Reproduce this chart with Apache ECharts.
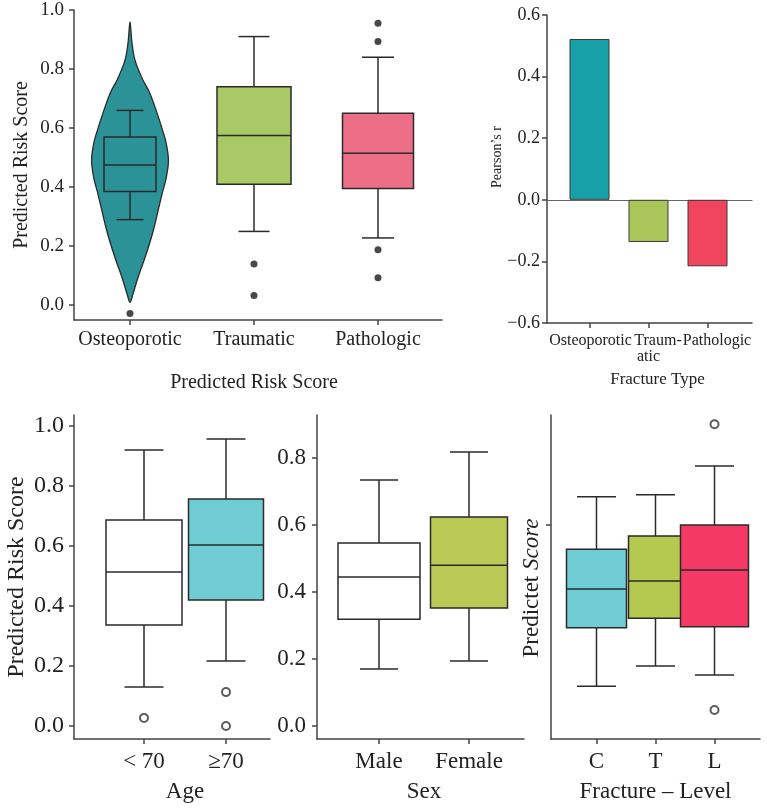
<!DOCTYPE html>
<html>
<head>
<meta charset="utf-8">
<title>Predicted risk score panels</title>
<script src="https://cdn.jsdelivr.net/npm/echarts@6/dist/echarts.min.js"></script>
<style>
  html, body { margin: 0; padding: 0; background: #fff; }
  #chart { width: 767px; height: 809px; }
</style>
</head>
<body>
<div id="chart"></div>
<script>
// ---- data ----
// boxes are [lower whisker, Q1, median, Q3, upper whisker]
const typeCats = ['Osteoporotic', 'Traumatic', 'Pathologic'];
const typeBoxes = [
  [0.29, 0.385, 0.475, 0.57, 0.66],
  [0.25, 0.41, 0.575, 0.74, 0.91],
  [0.228, 0.395, 0.515, 0.65, 0.84]
];
const typeOutliers = [[0, -0.028], [1, 0.14], [1, 0.033], [2, 0.955], [2, 0.893], [2, 0.188], [2, 0.093]];
// osteoporotic violin: score levels and relative density
const violinY = [0.96, 0.89, 0.83, 0.77, 0.72, 0.66, 0.60, 0.55, 0.49, 0.43, 0.38, 0.32, 0.26, 0.21, 0.15, 0.095, 0.04, 0.01];
const violinD = [0, 0.05, 0.13, 0.31, 0.51, 0.68, 0.83, 0.94, 1.0, 0.94, 0.84, 0.73, 0.62, 0.51, 0.36, 0.21, 0.08, 0];

const corrCats = ['Osteoporotic', 'Traum-\natic', 'Pathologic'];
const corrValues = [0.522, -0.137, -0.216];
// the printed axis jumps from -0.2 straight to "-0.6" one step below
const corrTicks = [-0.4, -0.2, 0, 0.2, 0.4, 0.6];
const corrTickLabels = ['\u22120.6', '\u22120.2', '0.0', '0.2', '0.4', '0.6'];

const ageCats = ['< 70', '\u226570'];
const ageBoxes = [
  [0.13, 0.337, 0.513, 0.687, 0.92],
  [0.217, 0.42, 0.603, 0.757, 0.957]
];
const ageOutliers = [[0, 0.027], [1, 0.113], [1, 0.0]];

const sexCats = ['Male', 'Female'];
const sexBoxes = [
  [0.17, 0.319, 0.445, 0.546, 0.734],
  [0.194, 0.352, 0.48, 0.624, 0.818]
];

const levelCats = ['C', 'T', 'L'];
const levelBoxes = [
  [0.119, 0.293, 0.409, 0.528, 0.684],
  [0.179, 0.322, 0.433, 0.567, 0.69],
  [0.152, 0.296, 0.466, 0.6, 0.776]
];
const levelOutliers = [[2, 0.901], [2, 0.048]];

const scoreTicks = [0, 0.2, 0.4, 0.6, 0.8, 1.0];
const sexTicks = [0, 0.2, 0.4, 0.6, 0.8];
const levelTicks = [0.6];

// ---- styles ----
const FONT = 'Liberation Serif';
const INK = '#222';
const LINE = '#2a2a2a';
const typeColors = ['#2b9398', '#a9c866', '#ec6f87'];
const corrColors = ['#17a0a8', '#aac65b', '#f1455f'];
const ageColors = ['#ffffff', '#70ccd3'];
const sexColors = ['#ffffff', '#b9ca54'];
const levelColors = ['#70ccd3', '#b5c850', '#f33964'];

const axisLineStyle = { color: '#444', width: 1.5 };
const fmt = v => (v < -1e-9 ? '\u2212' : '') + Math.abs(v).toFixed(1);

const grids = [], xAxes = [], yAxes = [], series = [];

function panel(p) {
  const g = grids.length;
  grids.push({ left: p.left, top: p.top, width: p.width, height: p.height, outerBoundsMode: 'none' });
  grids.push({ left: p.dataLeft, top: p.top, width: p.dataWidth, height: p.height, outerBoundsMode: 'none' });
  xAxes.push({
    gridIndex: g, type: 'value', min: 0, max: 1, position: 'bottom',
    axisLine: { show: true, onZero: false, lineStyle: axisLineStyle },
    axisTick: { show: false }, axisLabel: { show: false }, splitLine: { show: false }
  });
  yAxes.push({
    gridIndex: g, type: 'value', min: p.range[0], max: p.range[1],
    axisLine: { show: true, lineStyle: axisLineStyle },
    axisTick: { show: true, length: 5, customValues: p.ticks, lineStyle: axisLineStyle },
    axisLabel: {
      show: p.labels !== false, customValues: p.ticks, formatter: p.tickFmt || fmt,
      fontFamily: FONT, fontSize: p.tickSize, color: INK, margin: p.tickMargin
    },
    splitLine: { show: false },
    name: p.yName || '', nameLocation: 'middle', nameGap: p.yNameGap || 0, nameMoveOverlap: false,
    nameTextStyle: Object.assign({ fontFamily: FONT, fontSize: p.yNameSize, color: INK }, p.yNameStyle || {})
  });
  const xi = xAxes.length;
  xAxes.push({
    gridIndex: g + 1, type: 'category', data: p.cats,
    axisLine: { show: false, onZero: false },
    axisTick: { show: true, alignWithLabel: true, length: 5, lineStyle: axisLineStyle },
    axisLabel: Object.assign({
      interval: 0, fontFamily: FONT, fontSize: p.catSize, color: INK,
      margin: p.catMargin, lineHeight: p.catLine || p.catSize
    }, p.catExtra || {}),
    name: p.xName, nameLocation: 'middle', nameGap: p.xNameGap, nameMoveOverlap: false,
    nameTextStyle: Object.assign({ fontFamily: FONT, fontSize: p.xNameSize, color: INK }, p.xNameStyle || {})
  });
  const yi = yAxes.length;
  yAxes.push({ gridIndex: g + 1, type: 'value', min: p.range[0], max: p.range[1], show: false });
  return { g: g, x: xi, y: yi, fx: xi - 1, fy: yi - 1 };
}

function boxRenderer(colors, widths, caps) {
  return function (params, api) {
    const i = api.value(0);
    const lo = api.coord([i, api.value(1)]);
    const q1 = api.coord([i, api.value(2)]);
    const md = api.coord([i, api.value(3)]);
    const q3 = api.coord([i, api.value(4)]);
    const hi = api.coord([i, api.value(5)]);
    const x = lo[0], hw = widths[i] / 2, hc = caps[i] / 2;
    const st = { stroke: LINE, lineWidth: 1.5 };
    return {
      type: 'group',
      children: [
        { type: 'line', shape: { x1: x, y1: hi[1], x2: x, y2: q3[1] }, style: st },
        { type: 'line', shape: { x1: x, y1: q1[1], x2: x, y2: lo[1] }, style: st },
        { type: 'line', shape: { x1: x - hc, y1: hi[1], x2: x + hc, y2: hi[1] }, style: st },
        { type: 'line', shape: { x1: x - hc, y1: lo[1], x2: x + hc, y2: lo[1] }, style: st },
        { type: 'rect', shape: { x: x - hw, y: q3[1], width: 2 * hw, height: q1[1] - q3[1] },
          style: { fill: colors[i], stroke: LINE, lineWidth: 1.5 } },
        { type: 'line', shape: { x1: x - hw, y1: md[1], x2: x + hw, y2: md[1] }, style: st }
      ]
    };
  };
}

function boxSeries(ax, boxes, colors, widths, caps) {
  return {
    type: 'custom', xAxisIndex: ax.x, yAxisIndex: ax.y,
    renderItem: boxRenderer(colors, widths, caps),
    encode: { x: 0, y: [1, 2, 3, 4, 5] },
    data: boxes.map((b, i) => [i].concat(b))
  };
}

function outlierSeries(ax, pts, hollow) {
  return {
    type: 'scatter', xAxisIndex: ax.x, yAxisIndex: ax.y, clip: false,
    symbol: hollow ? 'emptyCircle' : 'circle', symbolSize: hollow ? 8 : 7,
    itemStyle: hollow ? { color: '#333', borderColor: '#333', borderWidth: 1.5 } : { color: '#1a1a1a' },
    data: pts
  };
}

// top-left: score by fracture type
const p1 = panel({
  left: 74, top: 10, width: 368, height: 310, dataLeft: 68, dataWidth: 372,
  range: [-0.05, 1.0], ticks: scoreTicks, tickSize: 19, tickMargin: 10,
  yName: 'Predicted Risk Score', yNameGap: 42, yNameSize: 20,
  cats: typeCats, catSize: 20, catMargin: 10,
  xName: 'Predicted Risk Score', xNameGap: 53, xNameSize: 20
});
series.push({
  type: 'custom', xAxisIndex: p1.x, yAxisIndex: p1.y,
  renderItem: function (params, api) {
    const half = api.size([1, 0])[0] * 0.31;
    const pts = [];
    for (let k = 0; k < violinY.length; k++) {
      const c = api.coord([0, violinY[k]]);
      pts.push([c[0] - violinD[k] * half, c[1]]);
    }
    for (let k = violinY.length - 2; k >= 1; k--) {
      const c = api.coord([0, violinY[k]]);
      pts.push([c[0] + violinD[k] * half, c[1]]);
    }
    return {
      type: 'polygon', shape: { points: pts, smooth: 0.35 },
      style: { fill: typeColors[0], stroke: LINE, lineWidth: 1.3 }
    };
  },
  data: [[0, 0.5]]
});
series.push(boxSeries(p1, typeBoxes, typeColors, [52, 74, 71], [27, 31, 32]));
series.push(outlierSeries(p1, typeOutliers, false));

// top-right: correlation by fracture type
const corrLabelStyle = { fontFamily: FONT, fontSize: 16, color: INK, lineHeight: 16 };
const p2 = panel({
  left: 547, top: 15, width: 205, height: 308, dataLeft: 560, dataWidth: 177,
  range: [-0.4, 0.6], ticks: corrTicks, tickSize: 18, tickMargin: 7,
  tickFmt: v => corrTickLabels[corrTicks.findIndex(t => Math.abs(t - v) < 1e-6)],
  yName: 'Pearson\u2019s r', yNameGap: 43, yNameSize: 14,
  yNameStyle: { padding: [0, 0, 0, 24] },
  cats: corrCats, catSize: 16, catMargin: 10, catLine: 16,
  catExtra: {
    formatter: (value, index) => value.split('\n')
      .map((s, k) => '{' + (k === 0 ? 'c' + index : 'n') + '|' + s + '}').join('\n'),
    rich: {
      c0: Object.assign({ padding: [0, 0, 0, 2] }, corrLabelStyle),
      c1: Object.assign({ padding: [0, 0, 0, 19] }, corrLabelStyle),
      c2: Object.assign({ padding: [0, 0, 0, 19] }, corrLabelStyle),
      n: Object.assign({}, corrLabelStyle)
    }
  },
  xName: 'Fracture Type', xNameGap: 48, xNameSize: 17,
  xNameStyle: { padding: [0, 0, 0, 18] }
});
// zero reference line across the frame
xAxes.push({
  gridIndex: p2.g, type: 'value', min: 0, max: 1, position: 'top',
  axisLine: { show: true, onZero: true, lineStyle: { color: '#666', width: 1.2 } },
  axisTick: { show: false }, axisLabel: { show: false }, splitLine: { show: false }
});
series.push({
  type: 'bar', xAxisIndex: p2.x, yAxisIndex: p2.y, barWidth: 40,
  itemStyle: { borderColor: '#3a3a3a', borderWidth: 1 },
  data: corrValues.map((v, i) => ({ value: v, itemStyle: { color: corrColors[i] } }))
});

// bottom row
const p3 = panel({
  left: 74, top: 415, width: 196, height: 324, dataLeft: 103, dataWidth: 164,
  range: [-0.0433, 1.0367], ticks: scoreTicks, tickSize: 24, tickMargin: 10,
  yName: 'Predicted Risk Score', yNameGap: 45, yNameSize: 24,
  cats: ageCats, catSize: 23, catMargin: 11,
  xName: 'Age', xNameGap: 41, xNameSize: 23
});
series.push(boxSeries(p3, ageBoxes, ageColors, [76, 75], [39, 39]));
series.push(outlierSeries(p3, ageOutliers, true));

const p4 = panel({
  left: 317, top: 415, width: 207, height: 324, dataLeft: 334, dataWidth: 180,
  range: [-0.0388, 0.9284], ticks: sexTicks, tickSize: 23, tickMargin: 11,
  cats: sexCats, catSize: 23, catMargin: 11,
  xName: 'Sex', xNameGap: 41, xNameSize: 23
});
series.push(boxSeries(p4, sexBoxes, sexColors, [82, 77], [38, 38]));

const p5 = panel({
  left: 551, top: 415, width: 209, height: 324, dataLeft: 567, dataWidth: 177,
  range: [-0.0388, 0.9284], ticks: levelTicks, labels: false, tickSize: 23, tickMargin: 10,
  yName: '{a|Predictet }{b|Score}', yNameGap: 8, yNameSize: 23,
  yNameStyle: { padding: [0, 22, 0, 0], rich: {
    a: { fontFamily: FONT, fontSize: 23, color: INK },
    b: { fontFamily: FONT, fontSize: 23, color: INK, fontStyle: 'italic' }
  } },
  cats: levelCats, catSize: 23, catMargin: 11,
  xName: 'Fracture \u2013 Level', xNameGap: 41, xNameSize: 23
});
series.push(boxSeries(p5, levelBoxes, levelColors, [60, 54, 68], [39, 39, 39]));
series.push(outlierSeries(p5, levelOutliers, true));

const chart = echarts.init(document.getElementById('chart'));
chart.setOption({
  backgroundColor: '#fff',
  animation: false,
  textStyle: { fontFamily: FONT },
  grid: grids,
  xAxis: xAxes,
  yAxis: yAxes,
  series: series
});
window.addEventListener('resize', () => chart.resize());
</script>
</body>
</html>
